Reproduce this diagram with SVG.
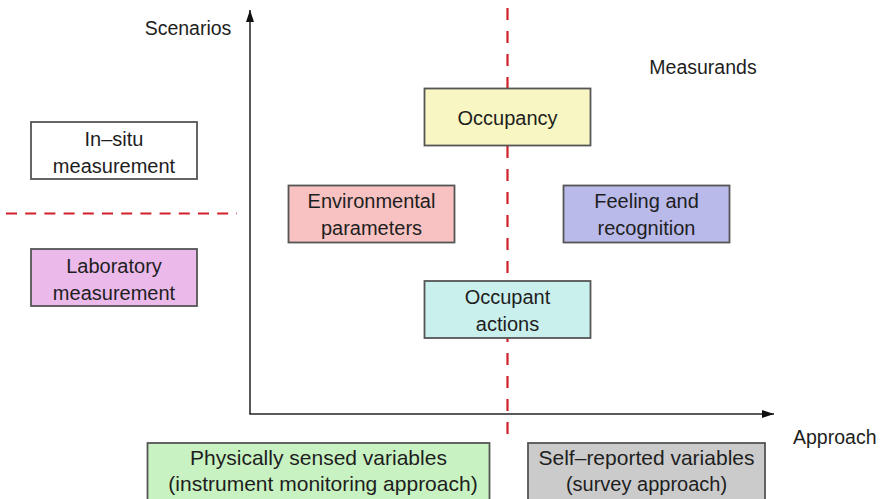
<svg xmlns="http://www.w3.org/2000/svg" width="882" height="499" viewBox="0 0 882 499">
  <defs>
    <marker id="arrow" viewBox="0 0 12 8" refX="12" refY="4" markerWidth="12" markerHeight="8" markerUnits="userSpaceOnUse" orient="auto">
      <path d="M0,0 L12,4 L0,8 Z" fill="#111"/>
    </marker>
    <style>
      text { font-family: "Liberation Sans", Arial, Helvetica, sans-serif; font-size: 20px; fill: #1e1e1e; text-anchor: middle; }
      .label { font-size: 19.5px; }
      .wide { font-size: 21px; }
      .box { stroke: #555; stroke-width: 1.8; }
      .axis { stroke: #222; stroke-width: 1.5; fill: none; }
      .divider { stroke: #d0202a; stroke-width: 2.2; fill: none; }
    </style>
  </defs>
  <rect width="882" height="499" fill="#fff"/>

  <!-- dividers and axes -->
  <g id="connectors">
    <line class="divider" x1="507.5" y1="8" x2="507.5" y2="437" stroke-dasharray="12 11"/>
    <line class="divider" x1="6" y1="213.5" x2="237" y2="213.5" stroke-dasharray="11 8.2"/>
    <line class="axis" x1="250" y1="414" x2="250" y2="10" marker-end="url(#arrow)"/>
    <line class="axis" x1="249.3" y1="414" x2="774" y2="414" marker-end="url(#arrow)"/>
  </g>

  <!-- axis titles -->
  <g id="axis-labels">
    <text class="label" x="188" y="35">Scenarios</text>
    <text class="label" x="703" y="74">Measurands</text>
    <text class="label" x="793" y="444" style="text-anchor:start">Approach</text>
  </g>

  <g id="in-situ">
    <rect class="box" x="31" y="122" width="166" height="57" fill="#fff"/>
    <text x="114" y="146">In–situ</text>
    <text x="114" y="173">measurement</text>
  </g>

  <g id="laboratory">
    <rect class="box" x="31" y="249" width="166" height="57" fill="#ebbaeb"/>
    <text x="114" y="273">Laboratory</text>
    <text x="114" y="300">measurement</text>
  </g>

  <g id="occupancy">
    <rect class="box" x="424.5" y="88.5" width="166" height="57" fill="#f8f6c2"/>
    <text x="507.5" y="125">Occupancy</text>
  </g>

  <g id="environmental">
    <rect class="box" x="288.5" y="185.5" width="166" height="57" fill="#f8c2c2"/>
    <text x="371.5" y="208">Environmental</text>
    <text x="371.5" y="235">parameters</text>
  </g>

  <g id="feeling">
    <rect class="box" x="563.5" y="185.5" width="166" height="57" fill="#b9b9ea"/>
    <text x="646.5" y="208">Feeling and</text>
    <text x="646.5" y="235">recognition</text>
  </g>

  <g id="occupant-actions">
    <rect class="box" x="424.5" y="281" width="166" height="57" fill="#caf0ed"/>
    <text x="507.5" y="304">Occupant</text>
    <text x="507.5" y="331">actions</text>
  </g>

  <g id="physically-sensed">
    <rect class="box" x="147.5" y="443" width="342" height="57" fill="#c9f2c2"/>
    <text class="wide" x="318.5" y="465">Physically sensed variables</text>
    <text class="wide" x="323" y="491">(instrument monitoring approach)</text>
  </g>

  <g id="self-reported">
    <rect class="box" x="528" y="443" width="237" height="57" fill="#cbcbcb"/>
    <text class="wide" x="646.5" y="465">Self–reported variables</text>
    <text x="646.5" y="491">(survey approach)</text>
  </g>
</svg>
